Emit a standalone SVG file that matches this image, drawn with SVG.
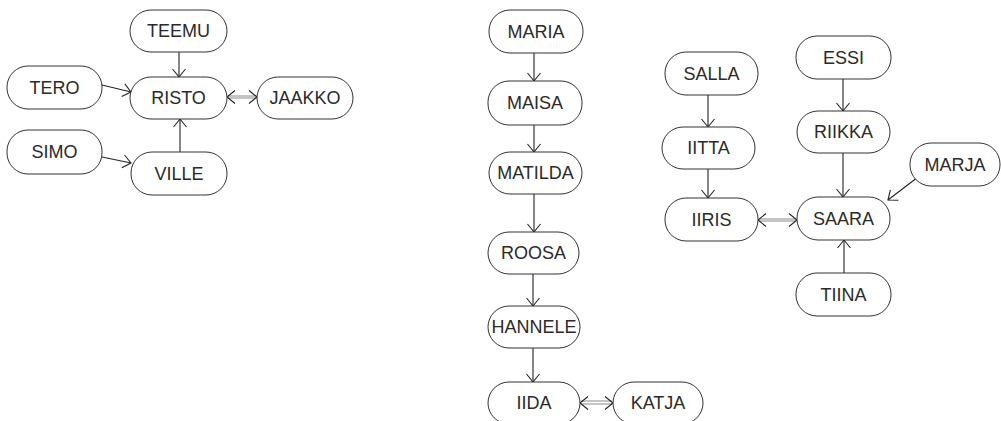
<svg xmlns="http://www.w3.org/2000/svg" width="1001" height="421" viewBox="0 0 1001 421">
  <style>
    .node rect { fill: #ffffff; stroke: #333333; stroke-width: 1; }
    .node text { font-family: "Liberation Sans", Arial, sans-serif; font-size: 18px; fill: #2a2a2a; text-anchor: middle; dominant-baseline: central; }
    .edge { stroke: #222222; stroke-width: 1.1; fill: none; marker-end: url(#arrow); }
    .pair { stroke: #8a8a8a; stroke-width: 1; fill: none; }
    .pair-end { stroke: none; fill: none; marker-start: url(#arrow); marker-end: url(#arrow); }
  </style>
  <defs>
    <!-- open V arrowhead; reversed at the start of two-way links -->
    <marker id="arrow" viewBox="0 0 10 16" refX="9" refY="8" markerWidth="10" markerHeight="16" markerUnits="userSpaceOnUse" orient="auto-start-reverse">
      <path d="M1,1.5 L9,8 L1,14.5" fill="none" stroke="#222222" stroke-width="1.1"/>
    </marker>
  </defs>
  <rect width="1001" height="421" fill="#ffffff"/>

  <!-- connectors -->
  <g id="connectors">
    <line class="edge" x1="179" y1="52" x2="179" y2="77"/>
    <line class="edge" x1="102" y1="85" x2="131" y2="92"/>
    <line class="edge" x1="102" y1="157" x2="131" y2="163"/>
    <line class="edge" x1="180" y1="152" x2="180" y2="119"/>
    <line class="pair" x1="228" y1="96" x2="256" y2="96"/>
    <line class="pair" x1="228" y1="98" x2="256" y2="98"/>
    <path class="pair-end" d="M257,97 L227,97"/>
    <line class="edge" x1="534" y1="53" x2="534" y2="81"/>
    <line class="edge" x1="534" y1="125" x2="534" y2="152"/>
    <line class="edge" x1="534" y1="194" x2="534" y2="232"/>
    <line class="edge" x1="533" y1="274" x2="533" y2="306"/>
    <line class="edge" x1="533" y1="348" x2="533" y2="382"/>
    <line class="pair" x1="581" y1="401" x2="612" y2="401"/>
    <line class="pair" x1="581" y1="404" x2="612" y2="404"/>
    <path class="pair-end" d="M613,403 L580,403"/>
    <line class="edge" x1="708" y1="95" x2="708" y2="127"/>
    <line class="edge" x1="708" y1="169" x2="708" y2="198"/>
    <line class="edge" x1="843" y1="79" x2="843" y2="111"/>
    <line class="edge" x1="843" y1="153" x2="843" y2="197"/>
    <line class="edge" x1="918" y1="177" x2="888" y2="200"/>
    <line class="edge" x1="844" y1="273" x2="844" y2="240"/>
    <line class="pair" x1="759" y1="219" x2="796" y2="219"/>
    <line class="pair" x1="759" y1="221" x2="796" y2="221"/>
    <path class="pair-end" d="M797,220 L758,220"/>
  </g>

  <!-- people -->
  <g id="n-teemu" class="node"><rect x="130" y="10" width="97" height="42" rx="21"/><text x="178.5" y="31">TEEMU</text></g>
  <g id="n-tero" class="node"><rect x="7" y="66" width="95" height="43" rx="21"/><text x="54.5" y="87.5">TERO</text></g>
  <g id="n-risto" class="node"><rect x="130" y="77" width="97" height="42" rx="21"/><text x="178.5" y="98">RISTO</text></g>
  <g id="n-jaakko" class="node"><rect x="257" y="77" width="96" height="42" rx="21"/><text x="305" y="98">JAAKKO</text></g>
  <g id="n-simo" class="node"><rect x="7" y="130" width="95" height="44" rx="21"/><text x="54.5" y="152">SIMO</text></g>
  <g id="n-ville" class="node"><rect x="131" y="152" width="96" height="43" rx="21"/><text x="179" y="173.5">VILLE</text></g>

  <g id="n-maria" class="node"><rect x="489" y="10" width="94" height="43" rx="21"/><text x="536" y="31.5">MARIA</text></g>
  <g id="n-maisa" class="node"><rect x="488" y="81" width="94" height="44" rx="21"/><text x="535" y="103">MAISA</text></g>
  <g id="n-matilda" class="node"><rect x="489" y="152" width="93" height="42" rx="21"/><text x="535.5" y="173">MATILDA</text></g>
  <g id="n-roosa" class="node"><rect x="488" y="232" width="91" height="42" rx="21"/><text x="533.5" y="253">ROOSA</text></g>
  <g id="n-hannele" class="node"><rect x="488" y="306" width="92" height="42" rx="21"/><text x="534" y="327">HANNELE</text></g>
  <g id="n-iida" class="node"><rect x="488" y="382" width="92" height="42" rx="21"/><text x="534" y="403">IIDA</text></g>
  <g id="n-katja" class="node"><rect x="613" y="382" width="90" height="42" rx="21"/><text x="658" y="403">KATJA</text></g>

  <g id="n-salla" class="node"><rect x="665" y="52" width="93" height="43" rx="21"/><text x="711.5" y="73.5">SALLA</text></g>
  <g id="n-essi" class="node"><rect x="796" y="36" width="95" height="43" rx="21"/><text x="843.5" y="57.5">ESSI</text></g>
  <g id="n-iitta" class="node"><rect x="662" y="127" width="93" height="42" rx="21"/><text x="708.5" y="148">IITTA</text></g>
  <g id="n-riikka" class="node"><rect x="797" y="111" width="93" height="42" rx="21"/><text x="843.5" y="132">RIIKKA</text></g>
  <g id="n-marja" class="node"><rect x="910" y="143" width="90" height="43" rx="21"/><text x="955" y="164.5">MARJA</text></g>
  <g id="n-iiris" class="node"><rect x="665" y="198" width="93" height="43" rx="21"/><text x="711.5" y="219.5">IIRIS</text></g>
  <g id="n-saara" class="node"><rect x="797" y="197" width="93" height="43" rx="21"/><text x="843.5" y="218.5">SAARA</text></g>
  <g id="n-tiina" class="node"><rect x="796" y="273" width="95" height="43" rx="21"/><text x="843.5" y="294.5">TIINA</text></g>
</svg>
